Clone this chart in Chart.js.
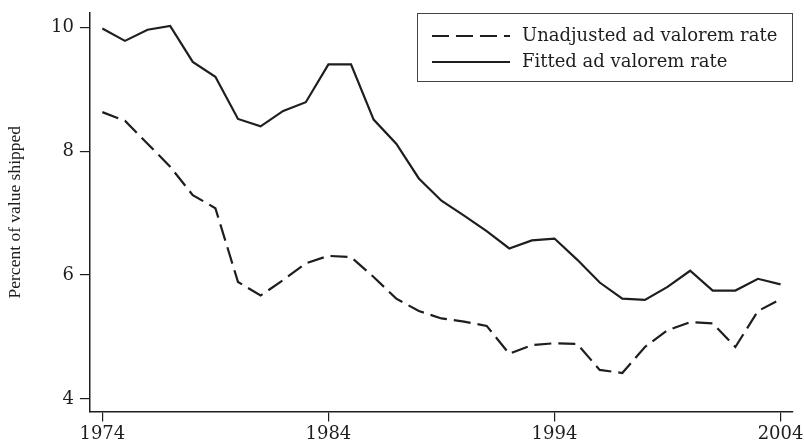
<!DOCTYPE html>
<html>
<head>
<meta charset="utf-8">
<script src="https://cdn.jsdelivr.net/npm/chart.js@4/dist/chart.umd.min.js"></script>
<style>
  html, body { margin: 0; padding: 0; background: #fff; }
  #wrap { width: 804px; height: 447px; }
</style>
</head>
<body>
<div id="wrap"><canvas id="tariffChart"></canvas></div>
<script>
// Years and series (percent of value shipped)
const years = [1974, 1975, 1976, 1977, 1978, 1979, 1980, 1981, 1982, 1983, 1984, 1985, 1986, 1987, 1988, 1989,
               1990, 1991, 1992, 1993, 1994, 1995, 1996, 1997, 1998, 1999, 2000, 2001, 2002, 2003, 2004];
const unadjusted = [8.63, 8.49, 8.12, 7.75, 7.29, 7.08, 5.89, 5.67, 5.92, 6.19, 6.31, 6.29, 5.97, 5.62, 5.42, 5.30,
                    5.25, 5.18, 4.73, 4.87, 4.90, 4.89, 4.47, 4.42, 4.84, 5.11, 5.24, 5.22, 4.84, 5.42, 5.61];
const fitted = [9.98, 9.78, 9.96, 10.02, 9.44, 9.20, 8.52, 8.40, 8.65, 8.79, 9.40, 9.40, 8.51, 8.12, 7.56, 7.20,
                6.96, 6.71, 6.43, 6.56, 6.59, 6.25, 5.88, 5.62, 5.60, 5.81, 6.07, 5.75, 5.75, 5.94, 5.85];
const xTicks = [1974, 1984, 1994, 2004];
const yTicks = [4, 6, 8, 10];

const ink = '#1e1e1e';
const serif = "'DejaVu Serif', serif";
const titleFont = "'Liberation Serif', serif";

function toPoints(vals) {
    return years.map((y, i) => ({ x: y, y: vals[i] }));
}

// labels may hang past the plot edges, like the original
function noEdgePadding(scale) {
    scale.paddingTop = 0;
    scale.paddingBottom = 0;
    scale.paddingLeft = 0;
    scale.paddingRight = 0;
}

// boxed legend in the top-right corner of the plot
const boxLegend = {
    id: 'boxLegend',
    afterDraw(chart) {
        const ctx = chart.ctx;
        const area = chart.chartArea;
        const w = 376, h = 69;
        const left = area.right - w, top = area.top;
        ctx.save();
        ctx.strokeStyle = '#444';
        ctx.lineWidth = 1;
        ctx.strokeRect(left + 0.5, top + 0.5, w - 1, h - 1);
        ctx.font = '18px ' + serif;
        ctx.fillStyle = ink;
        ctx.textBaseline = 'middle';
        chart.data.datasets.forEach((ds, i) => {
            const cy = top + 23 + i * 26;
            ctx.beginPath();
            ctx.setLineDash(ds.borderDash || []);
            ctx.strokeStyle = ds.borderColor;
            ctx.lineWidth = ds.borderWidth;
            ctx.moveTo(left + 15, cy);
            ctx.lineTo(left + 93, cy);
            ctx.stroke();
            ctx.setLineDash([]);
            ctx.fillText(ds.label, left + 105, cy);
        });
        ctx.restore();
    }
};

const ctx = document.getElementById('tariffChart').getContext('2d');
const tariffChart = new Chart(ctx, {
    type: 'line',
    data: {
        datasets: [
            {
                label: 'Unadjusted ad valorem rate',
                data: toPoints(unadjusted),
                borderColor: ink,
                borderWidth: 2.2,
                borderDash: [17, 7],
                pointRadius: 0,
                fill: false,
                tension: 0
            },
            {
                label: 'Fitted ad valorem rate',
                data: toPoints(fitted),
                borderColor: ink,
                borderWidth: 2.2,
                pointRadius: 0,
                fill: false,
                tension: 0
            }
        ]
    },
    options: {
        responsive: true,
        maintainAspectRatio: false,
        animation: false,
        layout: { autoPadding: false, padding: { top: 13, right: 11, bottom: 0, left: 5 } },
        plugins: {
            legend: { display: false },
            tooltip: { enabled: false }
        },
        scales: {
            x: {
                type: 'linear',
                min: 1973.45,
                max: 2004.55,
                afterBuildTicks: (axis) => { axis.ticks = xTicks.map(v => ({ value: v })); },
                afterFit: noEdgePadding,
                ticks: {
                    color: ink,
                    font: { family: serif, size: 18 },
                    maxRotation: 0,
                    padding: 2,
                    callback: (v) => String(v)
                },
                grid: { drawOnChartArea: false, drawTicks: true, tickLength: 10, color: ink, lineWidth: 1.2 },
                border: { display: true, color: ink, width: 1.5 }
            },
            y: {
                min: 3.8,
                max: 10.23,
                afterBuildTicks: (axis) => { axis.ticks = yTicks.map(v => ({ value: v })); },
                afterFit: noEdgePadding,
                ticks: {
                    color: ink,
                    font: { family: serif, size: 18 },
                    padding: 6
                },
                grid: { drawOnChartArea: false, drawTicks: true, tickLength: 10, color: ink, lineWidth: 1.2 },
                border: { display: true, color: ink, width: 1.5 },
                title: {
                    display: true,
                    text: 'Percent of value shipped',
                    color: ink,
                    font: { family: titleFont, size: 17.5 },
                    padding: { top: 0, bottom: 19 }
                }
            }
        }
    },
    plugins: [boxLegend]
});
</script>
</body>
</html>
